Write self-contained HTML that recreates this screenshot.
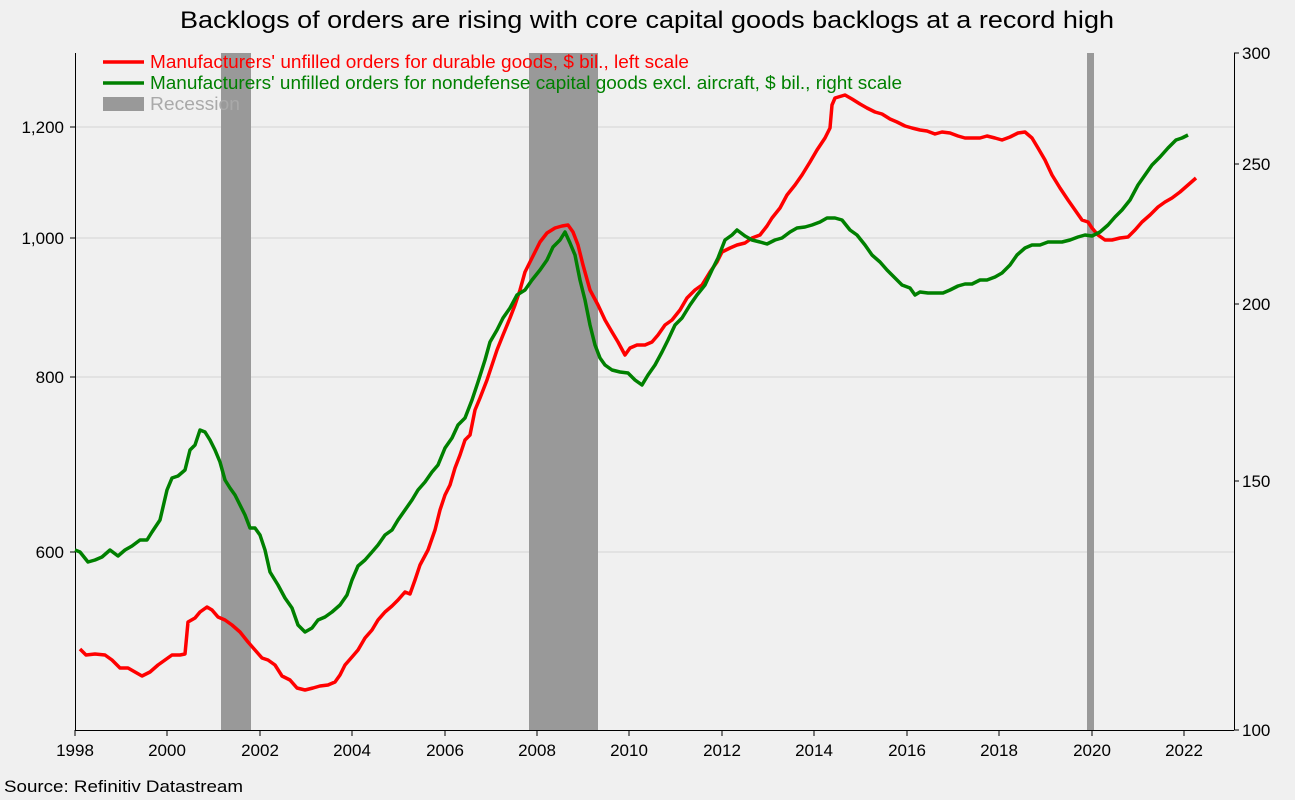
<!DOCTYPE html>
<html><head><meta charset="utf-8"><style>
html,body{margin:0;padding:0;background:#f0f0f0;}
svg{display:block;font-family:"Liberation Sans",Arial,sans-serif;}
</style></head><body>
<svg width="1295" height="800" viewBox="0 0 1295 800">
<rect width="1295" height="800" fill="#f0f0f0"/>
<text x="180" y="28" font-size="24" textLength="934" lengthAdjust="spacingAndGlyphs" fill="#000">Backlogs of orders are rising with core capital goods backlogs at a record high</text>
<g stroke="#d4d4d4" stroke-width="1">
<line x1="75" x2="1234" y1="127" y2="127"/>
<line x1="75" x2="1234" y1="238" y2="238"/>
<line x1="75" x2="1234" y1="377" y2="377"/>
<line x1="75" x2="1234" y1="552" y2="552"/>
</g>
<g fill="#999">
<rect x="221" y="53" width="30" height="677"/>
<rect x="529" y="53" width="69" height="677"/>
<rect x="1087" y="53" width="7" height="677"/>
</g>
<g stroke="#000" stroke-width="1">
<line x1="75.5" x2="75.5" y1="53" y2="730"/>
<line x1="1234.5" x2="1234.5" y1="53" y2="730"/>
<line x1="75" x2="1234" y1="730.5" y2="730.5"/>
<line x1="70" x2="75" y1="127" y2="127"/><line x1="70" x2="75" y1="238" y2="238"/><line x1="70" x2="75" y1="377" y2="377"/><line x1="70" x2="75" y1="552" y2="552"/>
<line x1="1234" x2="1239" y1="53" y2="53"/><line x1="1234" x2="1239" y1="164" y2="164"/><line x1="1234" x2="1239" y1="304" y2="304"/><line x1="1234" x2="1239" y1="481" y2="481"/><line x1="1234" x2="1239" y1="730" y2="730"/>
<line x1="75" x2="75" y1="730" y2="736"/><line x1="167" x2="167" y1="730" y2="736"/><line x1="260" x2="260" y1="730" y2="736"/><line x1="352" x2="352" y1="730" y2="736"/><line x1="445" x2="445" y1="730" y2="736"/><line x1="537" x2="537" y1="730" y2="736"/><line x1="629" x2="629" y1="730" y2="736"/><line x1="722" x2="722" y1="730" y2="736"/><line x1="814" x2="814" y1="730" y2="736"/><line x1="907" x2="907" y1="730" y2="736"/><line x1="999" x2="999" y1="730" y2="736"/><line x1="1092" x2="1092" y1="730" y2="736"/><line x1="1184" x2="1184" y1="730" y2="736"/>
</g>
<g font-size="17" fill="#000">
<g text-anchor="end"><text x="64" y="133">1,200</text><text x="64" y="244">1,000</text><text x="64" y="383">800</text><text x="64" y="558">600</text></g>
<g text-anchor="start"><text x="1242" y="59">300</text><text x="1242" y="170">250</text><text x="1242" y="310">200</text><text x="1242" y="487">150</text><text x="1242" y="736">100</text></g>
<g text-anchor="middle"><text x="75" y="756">1998</text><text x="167" y="756">2000</text><text x="260" y="756">2002</text><text x="352" y="756">2004</text><text x="445" y="756">2006</text><text x="537" y="756">2008</text><text x="629" y="756">2010</text><text x="722" y="756">2012</text><text x="814" y="756">2014</text><text x="907" y="756">2016</text><text x="999" y="756">2018</text><text x="1092" y="756">2020</text><text x="1184" y="756">2022</text></g>
<text x="4" y="792" textLength="239" lengthAdjust="spacingAndGlyphs">Source: Refinitiv Datastream</text>
</g>
<polyline fill="none" stroke="#ff0000" stroke-width="3.5" stroke-linejoin="round" points="80,649 86,655 95,654 105,655 112,660 120,668 128,668 135,672 142,676 150,672 158,665 165,660 172,655 180,655 185,654 188,622 195,618 200,612 207,607 212,610 218,617 225,620 232,625 240,632 248,642 255,650 262,658 268,660 275,665 282,676 290,680 297,688 305,690 313,688 320,686 328,685 335,682 340,675 345,665 352,657 358,650 365,638 372,630 378,620 385,612 392,606 398,600 405,592 410,594 415,580 420,565 428,550 435,530 440,510 445,495 450,485 455,468 460,455 465,440 470,435 475,410 480,398 487,380 492,365 497,350 503,335 510,318 515,305 520,290 525,272 532,258 540,242 547,233 555,228 562,226 568,225 573,232 578,245 583,265 590,290 598,305 605,320 612,332 618,342 625,355 630,348 637,345 645,345 652,342 658,335 665,325 672,320 680,310 687,298 695,290 702,285 710,272 717,262 722,252 730,248 737,245 745,243 752,238 760,235 767,226 772,218 780,208 787,195 795,185 802,175 810,162 817,150 825,138 830,128 832,105 835,98 845,95 852,99 860,104 867,108 875,112 882,114 890,119 897,122 905,126 912,128 920,130 927,131 935,134 942,132 950,133 958,136 965,138 972,138 980,138 987,136 995,138 1002,140 1010,137 1018,133 1025,132 1032,138 1038,148 1045,160 1052,175 1060,188 1068,200 1075,210 1082,220 1088,222 1092,228 1098,235 1105,240 1112,240 1120,238 1128,237 1135,230 1142,222 1150,215 1158,207 1165,202 1172,198 1180,192 1188,185 1196,178"/>
<polyline fill="none" stroke="#008000" stroke-width="3.5" stroke-linejoin="round" points="75,550 80,552 88,562 95,560 102,557 110,550 118,556 125,550 132,546 140,540 147,540 152,532 160,520 167,490 172,478 178,476 185,470 190,450 195,445 200,430 205,432 210,440 215,450 220,462 225,480 230,488 235,495 240,505 245,515 250,528 255,528 260,535 265,550 270,572 278,585 285,598 292,608 298,625 305,632 312,628 318,620 325,617 332,612 340,605 347,595 352,580 358,566 365,560 372,552 378,545 385,535 392,530 398,520 405,510 412,500 418,490 425,482 432,472 438,465 445,448 452,438 458,425 465,418 472,400 478,382 485,360 490,342 497,330 503,318 510,308 517,295 525,290 532,280 540,270 547,260 553,247 560,240 565,232 570,243 575,255 580,280 585,300 590,325 595,345 600,358 605,365 612,370 620,372 628,373 635,380 642,385 648,375 655,365 662,352 668,340 675,325 682,318 690,305 697,295 705,285 712,270 718,258 725,240 732,235 737,230 745,236 752,240 760,242 767,244 775,240 782,238 790,232 797,228 805,227 812,225 820,222 827,218 835,218 842,220 850,230 857,235 865,245 872,255 880,262 887,270 895,278 902,285 910,288 915,295 920,292 928,293 935,293 943,293 950,290 958,286 965,284 972,284 980,280 987,280 995,277 1002,273 1010,265 1017,255 1025,248 1032,245 1040,245 1048,242 1055,242 1062,242 1070,240 1078,237 1085,235 1092,236 1100,232 1108,225 1115,217 1122,210 1130,200 1138,185 1145,175 1152,165 1160,157 1168,148 1176,140 1182,138 1188,135"/>
<line x1="103" x2="144" y1="62" y2="62" stroke="#ff0000" stroke-width="3.5"/>
<text x="150" y="68" font-size="18" textLength="539" lengthAdjust="spacingAndGlyphs" fill="#ff0000">Manufacturers' unfilled orders for durable goods, $ bil., left scale</text>
<line x1="103" x2="144" y1="83" y2="83" stroke="#008000" stroke-width="3.5"/>
<text x="150" y="89" font-size="18" textLength="752" lengthAdjust="spacingAndGlyphs" fill="#008000">Manufacturers' unfilled orders for nondefense capital goods excl. aircraft, $ bil., right scale</text>
<rect x="103" y="97" width="41" height="14" fill="#999"/>
<text x="150" y="110" font-size="18" textLength="90" lengthAdjust="spacingAndGlyphs" fill="#a9a9a9">Recession</text>
</svg>
</body></html>
